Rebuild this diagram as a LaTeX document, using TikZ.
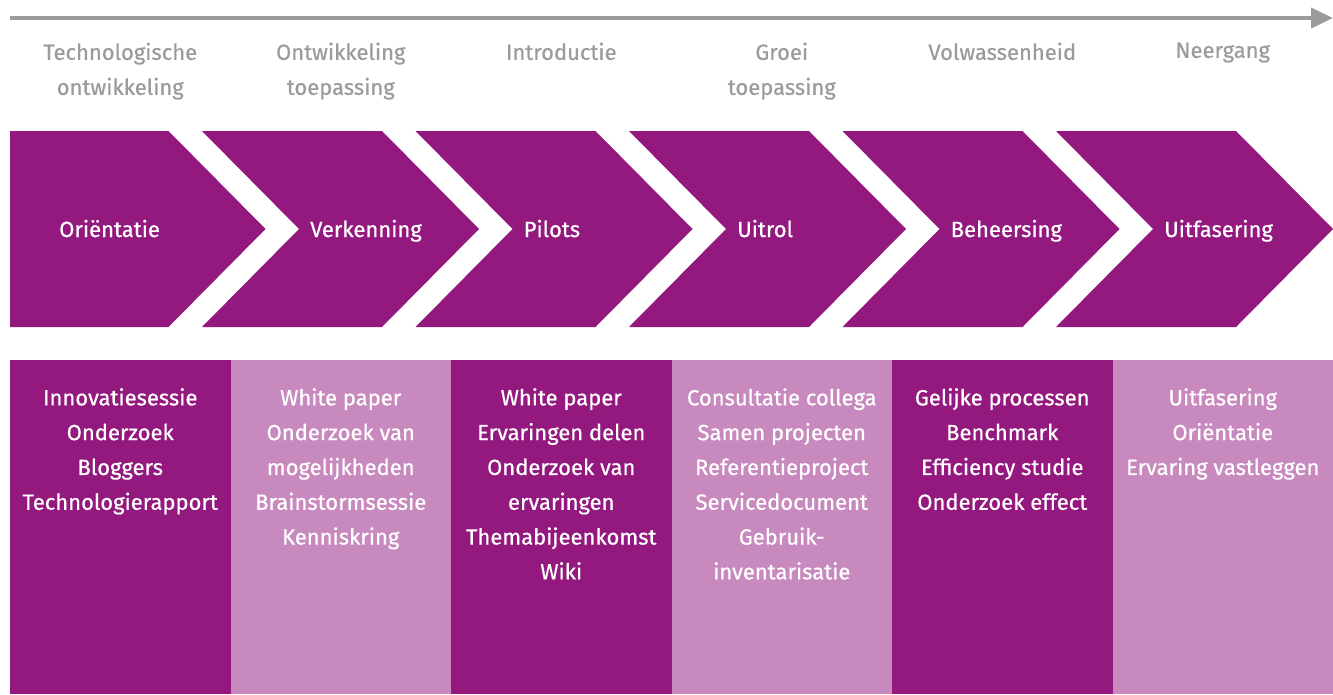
\documentclass[tikz,border=0pt]{standalone}
\usepackage{fontspec}
\setmainfont{Fira Sans}[FakeBold=0.6]
\usetikzlibrary{arrows.meta}

\definecolor{paars}{HTML}{94197F}
\definecolor{lichtpaars}{HTML}{C889BE}
\definecolor{grijs}{HTML}{9B9B9B}

\begin{document}
\begin{tikzpicture}[
    x=1pt, y=-1pt,
    fase/.style={
        text=grijs, align=center, anchor=north, inner sep=0pt,
        font=\fontsize{22}{35}\selectfont
    },
    stap/.style={
        text=white, anchor=base west, inner sep=0pt,
        font=\fontsize{22}{35}\selectfont
    },
    actie/.style={
        text=white, align=center, anchor=north, inner sep=0pt,
        font=\fontsize{22}{34.8}\selectfont
    }
    ]
    \useasboundingbox (0,0) rectangle (1333,694);

    % tijdlijn
    \coordinate (tijd begin) at (10,18);
    \coordinate (tijd eind) at (1333,18);
    \draw [grijs, line width=4pt, -{Triangle[length=22pt,width=20pt]}] (tijd begin) -- (tijd eind);

    % fasen boven de pijlen
    \foreach \tekst [count=\i from 0] in {
        {Technologische\\ontwikkeling},
        {Ontwikkeling\\toepassing},
        {Introductie},
        {Groei\\toepassing},
        {Volwassenheid},
        {Neergang}}
    {
        \node [fase] (fase-\i) at (120.25+220.5*\i,42.5) {\tekst};
    }

    % pijlen (chevrons)
    \fill [paars] (10,131) -- (168.5,131) -- (265.5,229) -- (168.5,327) -- (10,327) -- cycle;
    \foreach \i in {1,...,5}
    {
        \pgfmathsetmacro{\xl}{202+213.5*(\i-1)}
        \fill [paars] (\xl,131) -- (\xl+180,131) -- (\xl+277,229) -- (\xl+180,327)
            -- (\xl,327) -- (\xl+97,229) -- cycle;
    }
    \node [stap] (stap-0) at (59,237) {Oriëntatie};
    \foreach \tekst [count=\i] in {Verkenning, Pilots, Uitrol, Beheersing, Uitfasering}
    {
        \node [stap] (stap-\i) at (310+213.5*\i-213.5,237) {\tekst};
    }

    % kolommen met activiteiten
    \foreach \i in {0,...,5}
    {
        \pgfmathparse{isodd(\i)}
        \ifnum\pgfmathresult=1 \def\kleur{lichtpaars}\else\def\kleur{paars}\fi
        \fill [\kleur] (10+220.5*\i,360) rectangle (10+220.5*\i+220.5,694);
    }
    \foreach \tekst [count=\i from 0] in {
        {Innovatiesessie\\Onderzoek\\Bloggers\\Technologierapport},
        {White paper\\Onderzoek van\\mogelijkheden\\Brainstormsessie\\Kenniskring},
        {White paper\\Ervaringen delen\\Onderzoek van\\ervaringen\\Themabijeenkomst\\Wiki},
        {Consultatie collega\\Samen projecten\\Referentieproject\\Servicedocument\\Gebruik-\\inventarisatie},
        {Gelijke processen\\Benchmark\\Efficiency studie\\Onderzoek effect},
        {Uitfasering\\Oriëntatie\\Ervaring vastleggen}}
    {
        \node [actie] (actie-\i) at (120.25+220.5*\i,388) {\tekst};
    }
\end{tikzpicture}
\end{document}
